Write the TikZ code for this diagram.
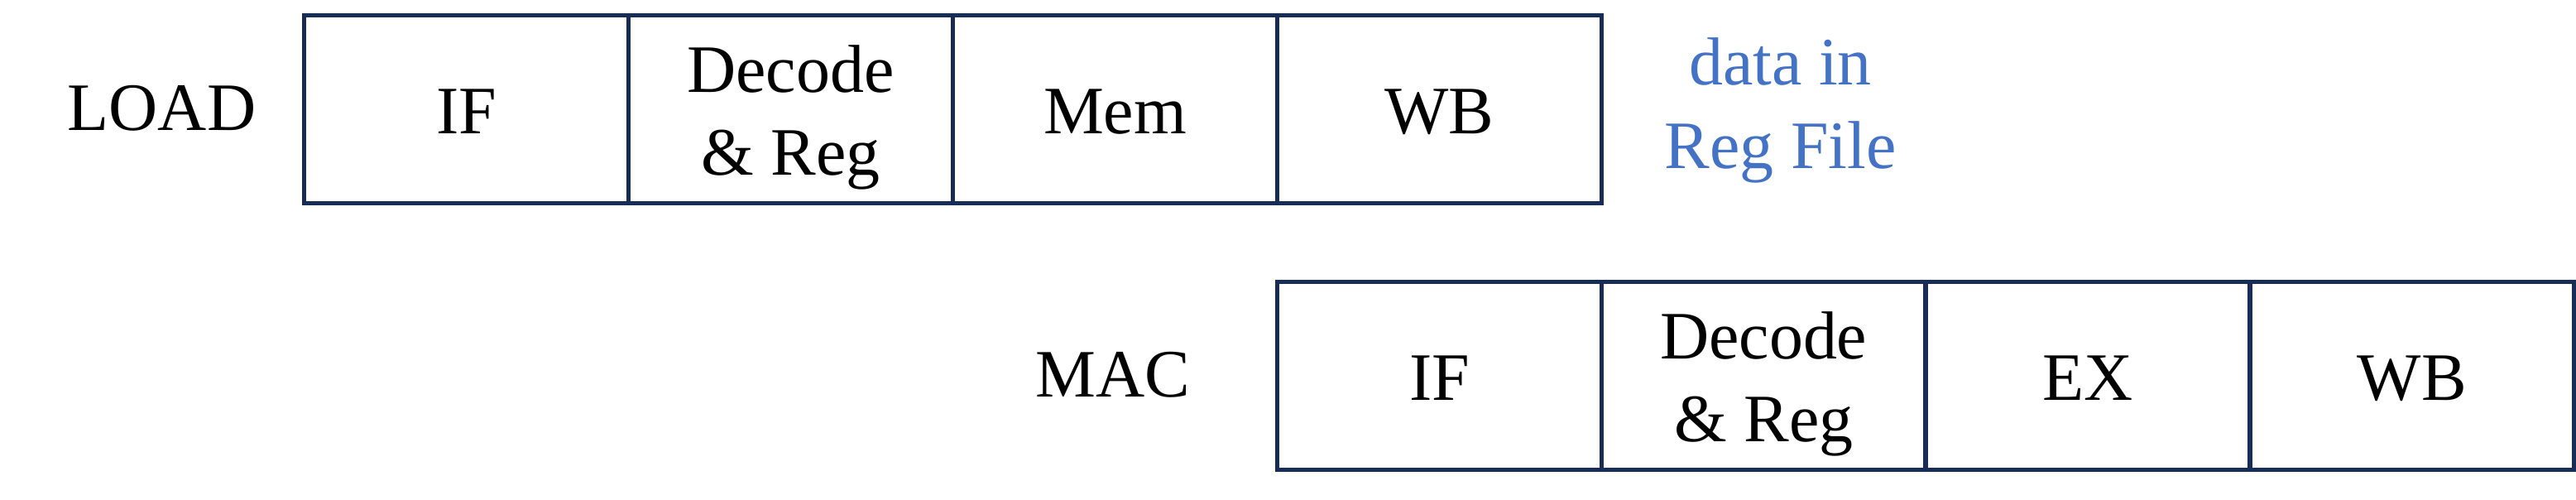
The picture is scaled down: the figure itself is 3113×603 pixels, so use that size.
\documentclass[tikz,border=0pt]{standalone}
\usepackage{fontspec}
\setmainfont{Liberation Serif}
\definecolor{boxline}{RGB}{24,45,85}
\definecolor{noteblue}{RGB}{68,114,196}
\begin{document}
\begin{tikzpicture}[x=0.01cm,y=-0.01cm,
  stagebox/.style={rectangle, draw=boxline, line width=0.05cm, minimum width=3.92cm, minimum height=2.27cm, inner sep=0pt, outer sep=0pt},
  lbl/.style={font=\fontsize{23.3}{28.45}\selectfont, inner sep=0pt, anchor=base, align=center},
  note/.style={lbl, text=noteblue},
]
\useasboundingbox (0,0) rectangle (3113,603);
% LOAD row
\node[stagebox] (lif)  at (563.5,132) {};
\node[stagebox] (ldec) at (955.5,132) {};
\node[stagebox] (lmem) at (1347.5,132) {};
\node[stagebox] (lwb)  at (1739.5,132) {};
% MAC row
\node[stagebox] (mif)  at (1739.4,453.75) {};
\node[stagebox] (mdec) at (2131.2,453.75) {};
\node[stagebox] (mex)  at (2522.9,453.75) {};
\node[stagebox] (mwb)  at (2914.6,453.75) {};
% labels (base anchor = baseline of the last line)
\node[lbl] (loadlbl) at (195.5,157.7) {LOAD};
\node[lbl] (maclbl)  at (1345,479.3) {MAC};
\node[lbl] (tlif)  at (563.5,161.7) {IF};
\node[lbl] (tldec) at (955.5,211.7) {Decode\\\& Reg};
\node[lbl] (tlmem) at (1347.5,161.7) {Mem};
\node[lbl] (tlwb)  at (1739.5,161.7) {WB};
\node[lbl] (tmif)  at (1739.4,483.3) {IF};
\node[lbl] (tmdec) at (2131.2,533.3) {Decode\\\& Reg};
\node[lbl] (tmex)  at (2522.9,483.3) {EX};
\node[lbl] (tmwb)  at (2914.6,483.3) {WB};
\node[note] (datanote) at (2151.5,203) {data in\\Reg File};
\end{tikzpicture}
\end{document}
